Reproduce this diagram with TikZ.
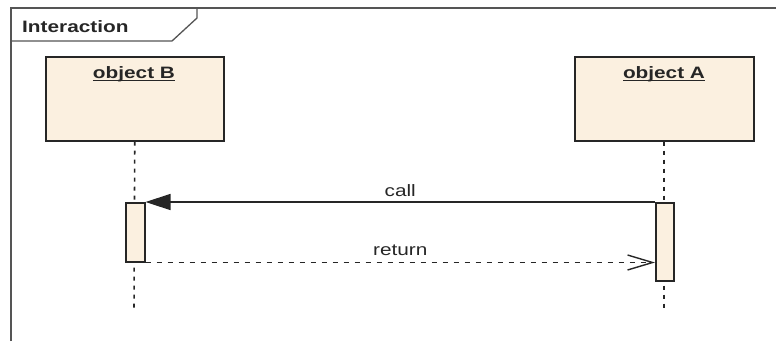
\documentclass[tikz,border=0pt]{standalone}
\usepackage{fontspec}
\setmainfont[FakeStretch=1.26]{Liberation Sans}
\usetikzlibrary{arrows.meta}
\definecolor{objfill}{HTML}{FBF0E0}
\definecolor{linec}{HTML}{262626}
\definecolor{framec}{HTML}{555555}
\newcommand\myul[1]{\setbox0\hbox{#1}\rlap{\rule[-3.2pt]{\wd0}{1.7pt}}\box0}
\tikzset{
  framestyle/.style={draw=framec, line width=1.3pt},
  objbox/.style={draw=linec, fill=objfill, line width=1.5pt, rectangle, inner sep=0pt, anchor=north west},
  objlabel/.style={font=\fontsize{16.5}{18}\selectfont\bfseries, text=linec, anchor=base, inner sep=0pt},
  actbox/.style={draw=linec, fill=objfill, line width=1.5pt, rectangle, inner sep=0pt, anchor=north west},
  lifeline/.style={draw=linec, line width=1.6pt, dash pattern=on 4pt off 5pt},
  msglabel/.style={font=\fontsize{16.5}{18}\selectfont, text=linec, anchor=base, inner sep=0pt},
  callmsg/.style={draw=linec, line width=1.4pt, -{Triangle[length=25pt,width=16pt]}},
  retmsg/.style={draw=linec, line width=1.4pt, dash pattern=on 5pt off 6pt, -{Straight Barb[length=25pt,width=15pt,line width=1.4pt]}}
}
\begin{document}
\begin{tikzpicture}[x=1pt,y=-1pt]
\useasboundingbox (0,0) rectangle (776,341);
% frame
\draw[framestyle] (11,341) -- (11,8) -- (776,8);
\draw[framestyle] (11,41) -- (172,41) -- (197,18) -- (197,8);
\node[font=\fontsize{16.5}{18}\selectfont\bfseries, text=linec, anchor=base west, inner sep=0pt] (title) at (22,32) {Interaction};
% objects
\node[objbox, minimum width=178pt, minimum height=84pt] (B) at (45,56) {};
\node[objbox, minimum width=179pt, minimum height=84pt] (A) at (574,56) {};
\node[objlabel] (Blab) at (134,78) {\myul{object B}};
\node[objlabel] (Alab) at (664,78) {\myul{object A}};
% lifelines
\coordinate (Bend) at (134,312);
\coordinate (Aend) at (664,312);
\draw[lifeline] (B.south) -- (Bend);
\draw[lifeline] (A.south -| Aend) -- (Aend);
% activations
\node[actbox, minimum width=19pt, minimum height=59pt] (Bact) at (125,202) {};
\node[actbox, minimum width=18pt, minimum height=78pt] (Aact) at (655,202) {};
% messages
\draw[callmsg] (Aact.north west) -- node[msglabel, yshift=6pt] (calllab) {call} (Bact.north east);
\draw[retmsg] (Bact.south east) -- node[msglabel, yshift=7pt] (retlab) {return} (Bact.south east -| Aact.west);
\end{tikzpicture}
\end{document}
